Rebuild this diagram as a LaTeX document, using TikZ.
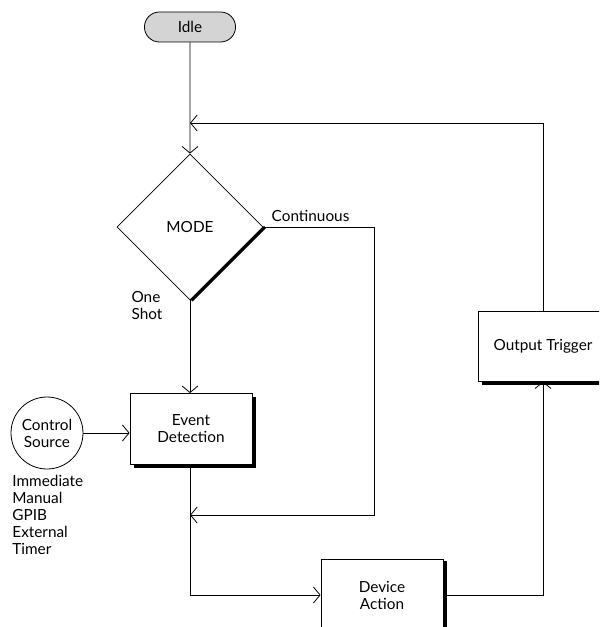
\documentclass[tikz,border=0pt]{standalone}
\usepackage{fontspec}
\setmainfont{Lato}
\usetikzlibrary{arrows.meta,positioning,shapes.geometric,shapes.misc}

\begin{document}
\begin{tikzpicture}[x=0.75pt,y=-0.75pt,>={Straight Barb[length=5pt,width=12pt]},
  line width=0.6pt,
  font=\fontsize{11.5}{12.75}\selectfont,
  box/.style={draw,minimum width=91.5pt,minimum height=53.25pt,align=center,inner sep=2pt},
  shade/.style={line width=2.2pt}]
  \clip (0,0) rectangle (599,627);
  \node[draw,rounded rectangle,fill=black!17,minimum width=75pt,minimum height=22.5pt] (idle) at (190,27) {Idle};
  \node[draw,diamond,minimum width=109.5pt,minimum height=109.5pt,inner sep=0pt] (mode) at (190,227) {MODE};
  \node[box] (ed) at (191,429) {Event\\Detection};
  \node[draw,circle,minimum size=54pt,inner sep=0pt,align=center] (cs) at (47,433) {Control\\Source};
  \node[box] (da) at (382,595) {Device\\Action};
  \node[box,minimum width=97.5pt,minimum height=52.5pt] (ot) at (543,346) {Output Trigger};
  % shadows
  \draw[shade] ([xshift=1.2pt]mode.east) -- ([xshift=1.2pt]mode.south);
  \draw[shade] ([shift={(2,4)}]ed.north east) |- ([shift={(4,2)}]ed.south west);
  \draw[shade] ([shift={(2,2)}]da.north east) -- ([shift={(2,40)}]da.south east);
  \draw[shade] ([shift={(4,2)}]ot.south west) -- ([shift={(40,2)}]ot.south east);
  % labels
  \node[anchor=south west,inner sep=1pt] (cont) at (270,223) {Continuous};
  \node[align=left,inner sep=0pt] (once) at (147,306) {One\\Shot};
  \node[anchor=north west,align=left,inner sep=0pt] (list) at (12,475) {Immediate\\Manual\\GPIB\\External\\Timer};
  % connectors
  \coordinate (back) at (190,123);
  \coordinate (merge) at (190,515);
  \draw[->] (idle) -- (mode);
  \draw[->] (ot.north) |- (back);
  \draw[->] (mode.east) -- ++(111,0) |- (merge);
  \draw[->] (mode.south) -- (ed.north -| mode.south);
  \draw[->] (cs) -- (ed.west |- cs);
  \draw[->] (ed.south -| mode.south) |- (da.west);
  \draw[->] (da.east) -| (ot.south);
\end{tikzpicture}
\end{document}
